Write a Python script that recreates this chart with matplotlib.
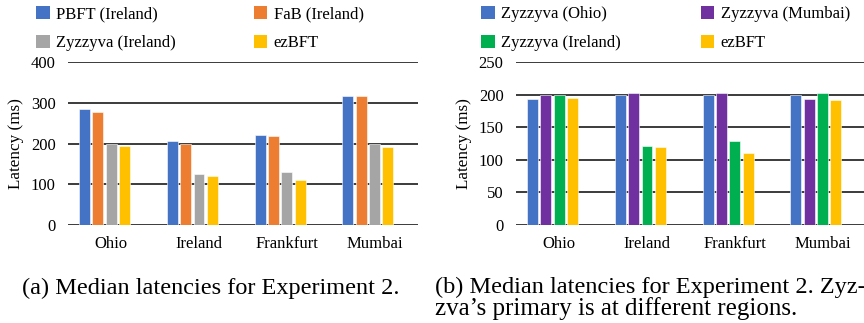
import numpy as np
from matplotlib import pyplot as plt
from matplotlib.patches import Patch

plt.rcParams['font.family'] = ['Liberation Serif', 'DejaVu Serif']

regions = ['Ohio', 'Ireland', 'Frankfurt', 'Mumbai']

# (a) median latencies, Experiment 2
names_a = ['PBFT (Ireland)', 'FaB (Ireland)', 'Zyzzyva (Ireland)', 'ezBFT']
pbft_ie = [284, 207, 222, 317]
fab_ie = [278, 200, 219, 317]
zyz_ie = [199, 124, 130, 200]
ezbft_a = [194, 120, 110, 192]
colors_a = ['#4472C4', '#ED7D31', '#A5A5A5', '#FFC000']

# (b) zyzzyva primary in different regions
names_b = ['Zyzzyva (Ohio)', 'Zyzzyva (Mumbai)', 'Zyzzyva (Ireland)', 'ezBFT']
zyz_oh = [193, 200, 200, 200]
zyz_mu = [200, 202, 202, 194]
zyz_ie_b = [200, 121, 129, 202]
ezbft_b = [195, 120, 111, 192]
colors_b = ['#4472C4', '#7030A0', '#00B050', '#FFC000']

W, H = 864, 323
fig = plt.figure(figsize=(W / 100, H / 100), dpi=100)


def panel(left, series, names, colors, ymax, ystep, legx, colsp):
    ax = fig.add_axes([left / W, 1 - 225 / H, 350 / W, 163 / H])
    x = np.arange(len(regions))
    bw = 0.125
    step = 0.152
    for i, (vals, c) in enumerate(zip(series, colors)):
        ax.bar(x + (i - 1.5) * step, vals, width=bw, color=c,
               edgecolor='white', linewidth=0.4, zorder=3)
    ax.set_xlim(-0.416, 3.57)
    ax.set_ylim(0, ymax)
    ax.set_yticks(np.arange(0, ymax + 1, ystep))
    ax.yaxis.grid(True, color='#1a1a1a', linewidth=1.2, zorder=0)
    ax.set_axisbelow(True)
    ax.set_xticks(x + 0.074)
    ax.set_xticklabels(regions, fontsize=12)
    ax.tick_params(axis='y', length=0, pad=9, labelsize=12)
    ax.tick_params(axis='x', length=0, pad=8)
    for s in ['top', 'right', 'left', 'bottom']:
        ax.spines[s].set_visible(False)
    ax.set_ylabel('Latency (ms)', fontsize=12.3, labelpad=5)
    handles = [Patch(facecolor=c) for c in colors]
    order = [0, 2, 1, 3]
    fig.legend([handles[k] for k in order], [names[k] for k in order],
               ncol=2, loc='upper left', bbox_to_anchor=(legx / W, 1 - 3 / H),
               frameon=False, fontsize=12, handlelength=0.8,
               handleheight=0.8, handletextpad=0.4, labelspacing=0.75,
               columnspacing=colsp, borderaxespad=0, borderpad=0.2)
    return ax


panel(68, [pbft_ie, fab_ie, zyz_ie, ezbft_a], names_a, colors_a, 400, 100, 33, 4.65)
panel(516, [zyz_oh, zyz_mu, zyz_ie_b, ezbft_b], names_b, colors_b, 250, 50, 478, 4.77)

fig.text(22 / W, 1 - 288 / H, '(a) Median latencies for Experiment 2.',
         fontsize=17.5, va='center', ha='left')
fig.text(435 / W, 1 - 287 / H, '(b) Median latencies for Experiment 2. Zyz-',
         fontsize=17.5, va='center', ha='left')
fig.text(435 / W, 1 - 309 / H, 'zva\u2019s primary is at different regions.',
         fontsize=18, va='center', ha='left')

fig.savefig('out.png', dpi=100)
